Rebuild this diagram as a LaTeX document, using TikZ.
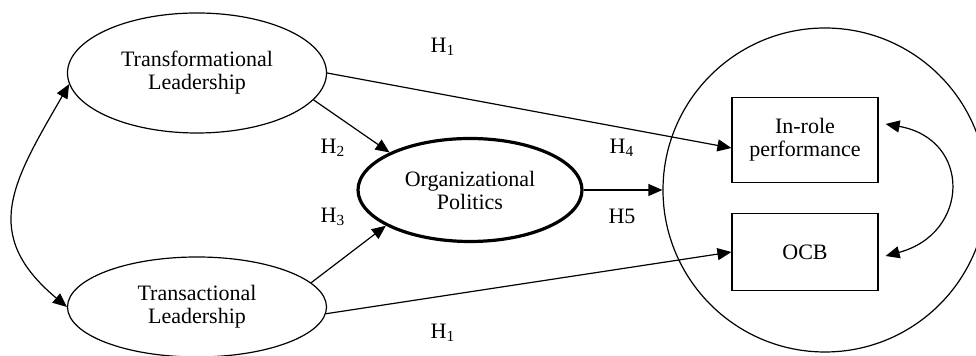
\documentclass[tikz,border=0pt]{standalone}
\usepackage{fontspec}
\setmainfont{Liberation Serif}
\usepackage{tikz}
\usetikzlibrary{positioning,shapes.geometric,arrows.meta}
\tikzset{
  basic/.style  = {draw, font=\fontsize{11}{11.5}\selectfont, align=center, inner sep=0pt},
  latent/.style = {basic, ellipse, line width=0.6pt, minimum width=129.5pt,
                   minimum height=60pt},
  mediator/.style = {basic, ellipse, line width=1.6pt, minimum width=112pt,
                   minimum height=51.5pt},
  outcome/.style = {basic, rectangle, line width=0.6pt, minimum width=73pt},
  group/.style = {draw, circle, line width=0.6pt, minimum size=162pt, inner sep=0pt},
  hyp/.style = {font=\fontsize{11}{11.5}\selectfont, inner sep=0pt},
  edge/.style = {-{Triangle[length=7pt,width=6pt]}, line width=0.6pt},
  edges/.style = {{Triangle[length=7pt,width=6pt]}-{Triangle[length=7pt,width=6pt]},
                  line width=0.6pt}
}

\begin{document}
\begin{tikzpicture}[x=0.5pt,y=-0.5pt]
      \useasboundingbox (0,0) rectangle (976,356);
      % constructs
      \node[latent] (A) at (197,73)  {Transformational\\Leadership};
      \node[latent, minimum height=50pt] (B) at (197,307) {Transactional\\Leadership};
      \node[mediator] (C) at (470,190) {Organizational\\Politics};
      \node[group] (F) at (825,190) {};
      \node[outcome, minimum height=42.5pt] (D) at (805,140) {In-role\\performance};
      \node[outcome, minimum height=38.5pt] (E) at (805,252) {OCB};
      % paths
      \draw[edge] (A.east) -- ([yshift=-4pt]D.west);
      \draw[edge] (A.-13) -- (C.155);
      \draw[edge] (B.12) -- (C.-157);
      \draw[edge] (B.-3) -- (E.west);
      \draw[edge] (C.east) -- (F.west);
      \draw[edges] (A.185) to[out=240, in=140, looseness=1.3] (B.west);
      \draw[edges] ([xshift=3.5pt,yshift=8pt]D.east) to[out=-10, in=15, looseness=1.7]
                   ([xshift=3.5pt,yshift=-2pt]E.east);
      % hypotheses
      \node[hyp] (h1) at (443,47)  {H\textsubscript{1}};
      \node[hyp] (h2) at (333,148) {H\textsubscript{2}};
      \node[hyp] (h3) at (333,217) {H\textsubscript{3}};
      \node[hyp] (h4) at (622,148) {H\textsubscript{4}};
      \node[hyp] (h5) at (622,216) {H5};
      \node[hyp] (h6) at (443,333) {H\textsubscript{1}};
\end{tikzpicture}
\end{document}
